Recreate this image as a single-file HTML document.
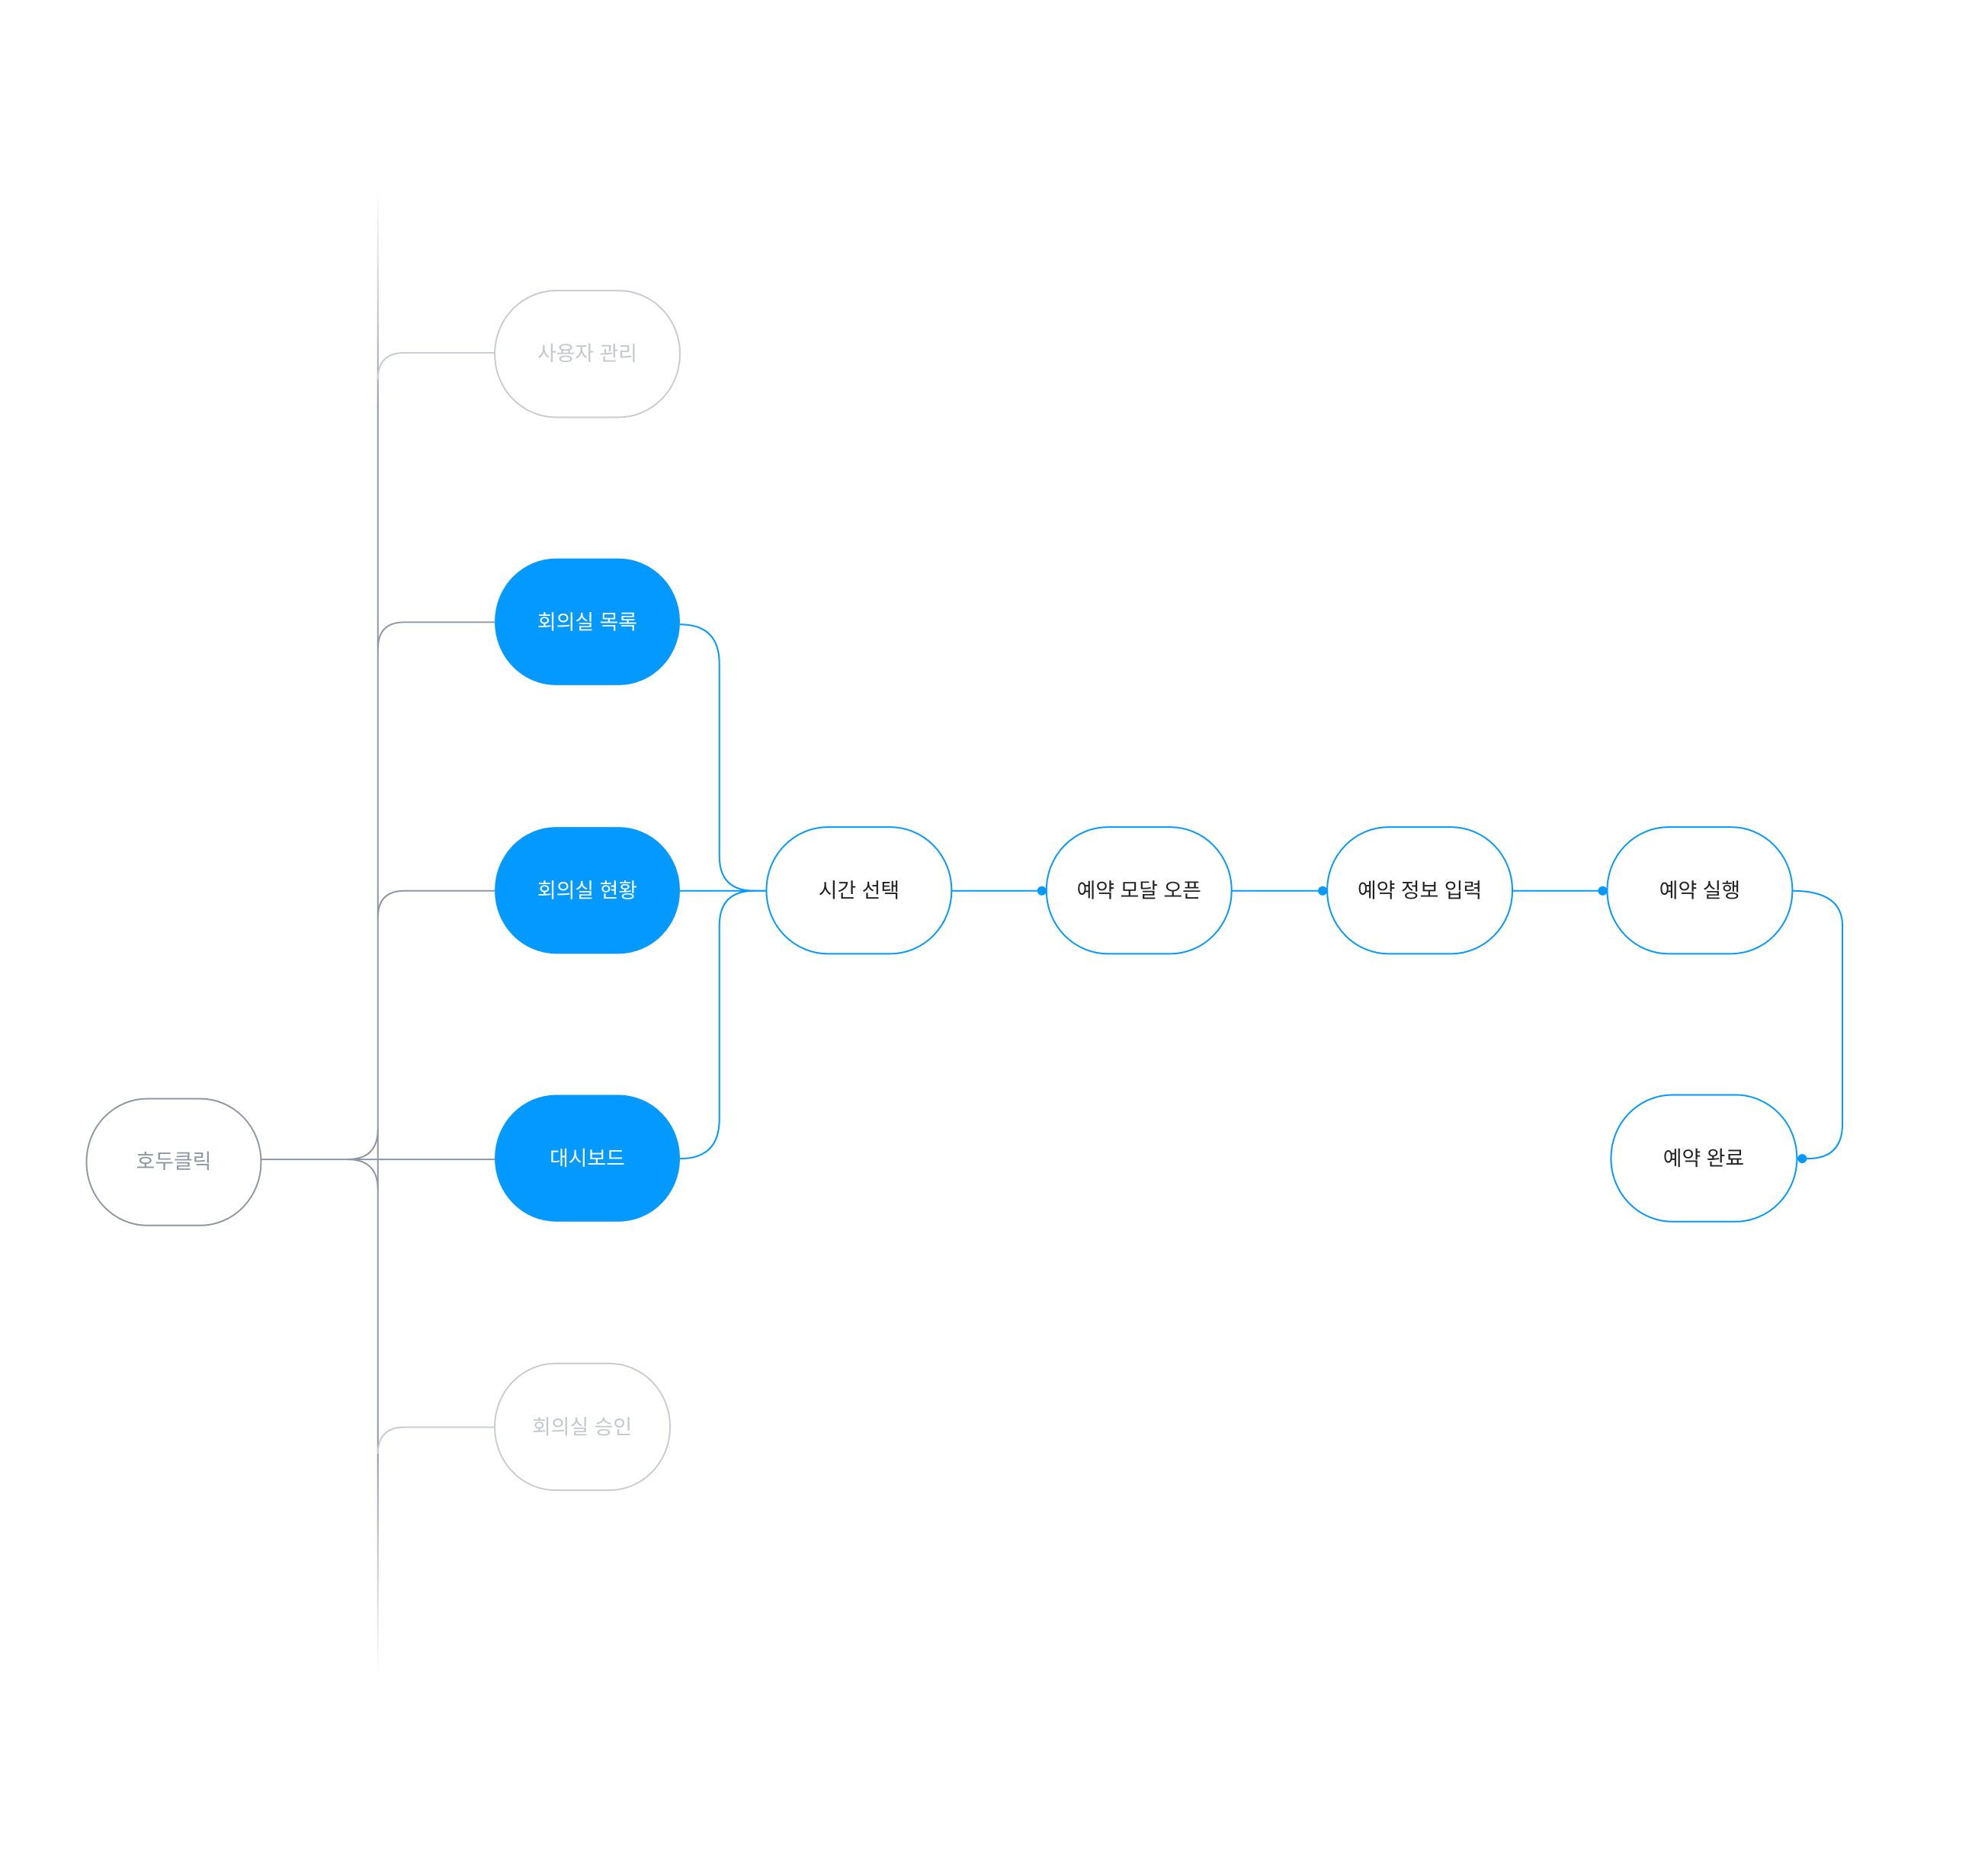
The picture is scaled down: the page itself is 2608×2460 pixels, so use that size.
<!DOCTYPE html>
<html><head><meta charset="utf-8"><style>
html,body{margin:0;padding:0;background:#fff;}
svg{display:block}
text{font-family:"Liberation Sans","Noto Sans CJK KR",sans-serif;font-size:27px;text-anchor:middle;dominant-baseline:central;}
</style></head><body>
<svg width="2608" height="2460" viewBox="0 0 2608 2460" xmlns="http://www.w3.org/2000/svg">
<defs>
<linearGradient id="trunk" x1="0" y1="250" x2="0" y2="2207" gradientUnits="userSpaceOnUse">
<stop offset="0" stop-color="#8e96a3" stop-opacity="0"/>
<stop offset="0.15" stop-color="#8e96a3" stop-opacity="1"/>
<stop offset="0.85" stop-color="#8e96a3" stop-opacity="1"/>
<stop offset="1" stop-color="#8e96a3" stop-opacity="0"/>
</linearGradient>
</defs>
<g transform="scale(0.9955)">
<g fill="none" stroke-width="2">
<line x1="498" y1="250" x2="498" y2="2207" stroke="url(#trunk)"/>
<g stroke="#8e96a3">
<path d="M498 500 Q498 465 533 465 L652 465" stroke="#c8ccd2"/>
<path d="M498 855 Q498 820 533 820 L652 820"/>
<path d="M498 1209 Q498 1174 533 1174 L652 1174"/>
<path d="M498 1916 Q498 1881 533 1881 L652 1881" stroke="#c8ccd2"/>
<path d="M344 1528 L652 1528"/>
<path d="M458 1528 Q498 1528 498 1488"/>
<path d="M458 1528 Q498 1528 498 1568"/>
</g>
<g stroke="#0399ff">
<path d="M896 823 Q948 823 948 875 L948 1128 Q948 1174 994 1174 L1010 1174"/>
<path d="M896 1527 Q948 1527 948 1475 L948 1220 Q948 1174 994 1174"/>
<path d="M896 1174 L1010 1174"/>
<path d="M1254 1174 L1379 1174"/>
<path d="M1623 1174 L1749 1174"/>
<path d="M1993 1174 L2118 1174"/>
<path d="M2362 1174 Q2428 1174 2428 1220 L2428 1481 Q2428 1527 2382 1527 L2368 1527"/>
</g>
</g>
<g fill="#0399ff">
<circle cx="1373" cy="1174" r="6"/>
<circle cx="1743" cy="1174" r="6"/>
<circle cx="2112" cy="1174" r="6"/>
<circle cx="2375" cy="1527" r="6"/>
</g>
<g stroke-width="2">
<rect x="114" y="1448" width="230" height="167" rx="80" ry="83" fill="#fff" stroke="#8e96a3"/>
<rect x="652" y="383" width="244" height="167" rx="81" ry="83" fill="#fff" stroke="#c8ccd2"/>
<rect x="652" y="1797" width="231" height="167" rx="80" ry="83" fill="#fff" stroke="#c8ccd2"/>
<rect x="652" y="736" width="244" height="167" rx="81" ry="83" fill="#0399ff" stroke="none"/>
<rect x="652" y="1090" width="244" height="167" rx="81" ry="83" fill="#0399ff" stroke="none"/>
<rect x="652" y="1443" width="244" height="167" rx="81" ry="83" fill="#0399ff" stroke="none"/>
<rect x="1010" y="1090" width="244" height="167" rx="81" ry="83" fill="#fff" stroke="#0399ff"/>
<rect x="1379" y="1090" width="244" height="167" rx="81" ry="83" fill="#fff" stroke="#0399ff"/>
<rect x="1749" y="1090" width="244" height="167" rx="81" ry="83" fill="#fff" stroke="#0399ff"/>
<rect x="2118" y="1090" width="244" height="167" rx="81" ry="83" fill="#fff" stroke="#0399ff"/>
<rect x="2123" y="1443" width="245" height="167" rx="81" ry="83" fill="#fff" stroke="#0399ff"/>
</g>
<text x="229" y="1531" fill="#8e96a3">호두클릭</text>
<text x="774" y="466" fill="#c4c8ce">사용자 관리</text>
<text x="767" y="1881" fill="#c4c8ce">회의실 승인</text>
<text x="774" y="820" fill="#fff">회의실 목록</text>
<text x="774" y="1174" fill="#fff">회의실 현황</text>
<text x="774" y="1527" fill="#fff">대시보드</text>
<text x="1132" y="1174" fill="#222">시간 선택</text>
<text x="1501" y="1174" fill="#222">예약 모달 오픈</text>
<text x="1871" y="1174" fill="#222">예약 정보 입력</text>
<text x="2240" y="1174" fill="#222">예약 실행</text>
<text x="2245" y="1527" fill="#222">예약 완료</text>
</g>
</svg>
</body></html>
